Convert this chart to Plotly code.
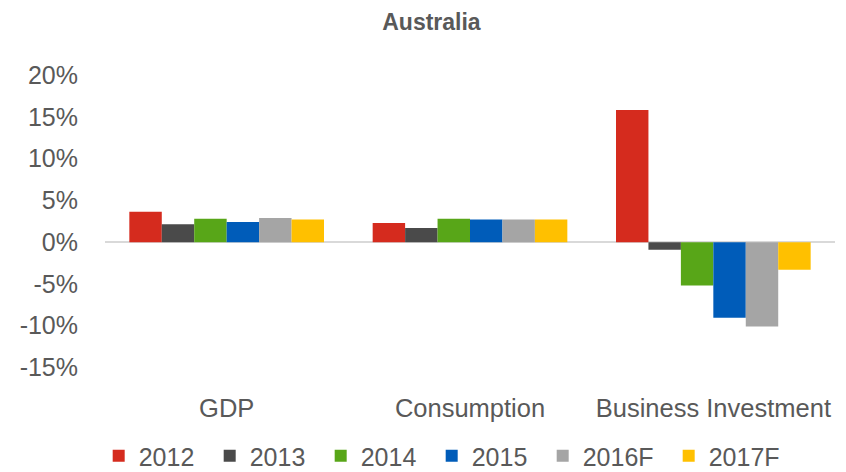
import plotly.graph_objects as go

# Annual growth rates, Australia
categories = ["GDP", "Consumption", "Business Investment"]
years = ["2012", "2013", "2014", "2015", "2016F", "2017F"]
growth = {
    "2012": [3.65, 2.3, 15.8],
    "2013": [2.15, 1.7, -0.9],
    "2014": [2.8, 2.8, -5.2],
    "2015": [2.4, 2.7, -9.05],
    "2016F": [2.9, 2.7, -10.1],
    "2017F": [2.7, 2.7, -3.3],
}
colors = ["#D52B1E", "#4A4A4A", "#58A618", "#005CB9", "#A5A5A5", "#FFC000"]
y_ticks = [-15, -10, -5, 0, 5, 10, 15, 20]

FONT = "Liberation Sans, Arial, sans-serif"
TEXT = "#595959"
LEGEND_SIZE = 25


def legend_entry_width(label):
    # approximate rendered label width plus a fixed gap to the next entry
    digits = sum(ch.isdigit() for ch in label)
    others = len(label) - digits
    return round((digits * 0.556 + others * 0.611) * LEGEND_SIZE) + 10


fig = go.Figure()
for year, color in zip(years, colors):
    fig.add_trace(go.Bar(
        name=year,
        x=categories,
        y=growth[year],
        marker=dict(color=color, line=dict(width=0)),
        legendwidth=legend_entry_width(year),
    ))

fig.update_layout(
    width=846,
    height=472,
    barmode="group",
    bargap=0.2,
    bargroupgap=0,
    plot_bgcolor="white",
    paper_bgcolor="white",
    margin=dict(l=105, r=11, t=75, b=103),
    font=dict(family=FONT, color=TEXT, size=25),
    title=dict(
        text="<b>Australia</b>",
        x=0.51, xref="container", xanchor="center",
        y=1 - 22 / 472, yref="container", yanchor="middle",
        font=dict(family=FONT, size=23, color=TEXT),
    ),
    showlegend=True,
    legend=dict(
        orientation="h",
        xref="container", x=0.528, xanchor="center",
        yref="container", y=1 - 456 / 472, yanchor="middle",
        font=dict(family=FONT, size=LEGEND_SIZE, color=TEXT),
        itemwidth=30,
        traceorder="normal",
    ),
)

fig.update_xaxes(
    showgrid=False,
    showline=False,
    zeroline=False,
    ticks="",
    tickfont=dict(family=FONT, size=25.5, color=TEXT),
    ticklabelstandoff=23,
)
fig.update_yaxes(
    range=[-15, 20],
    tickvals=y_ticks,
    ticktext=[f"{v}%" for v in y_ticks],
    showgrid=False,
    showline=False,
    zeroline=True,
    zerolinecolor="#D9D9D9",
    zerolinewidth=2,
    ticks="",
    tickfont=dict(family=FONT, size=25, color=TEXT),
    ticklabelstandoff=26,
)

fig.write_html("out.html")
